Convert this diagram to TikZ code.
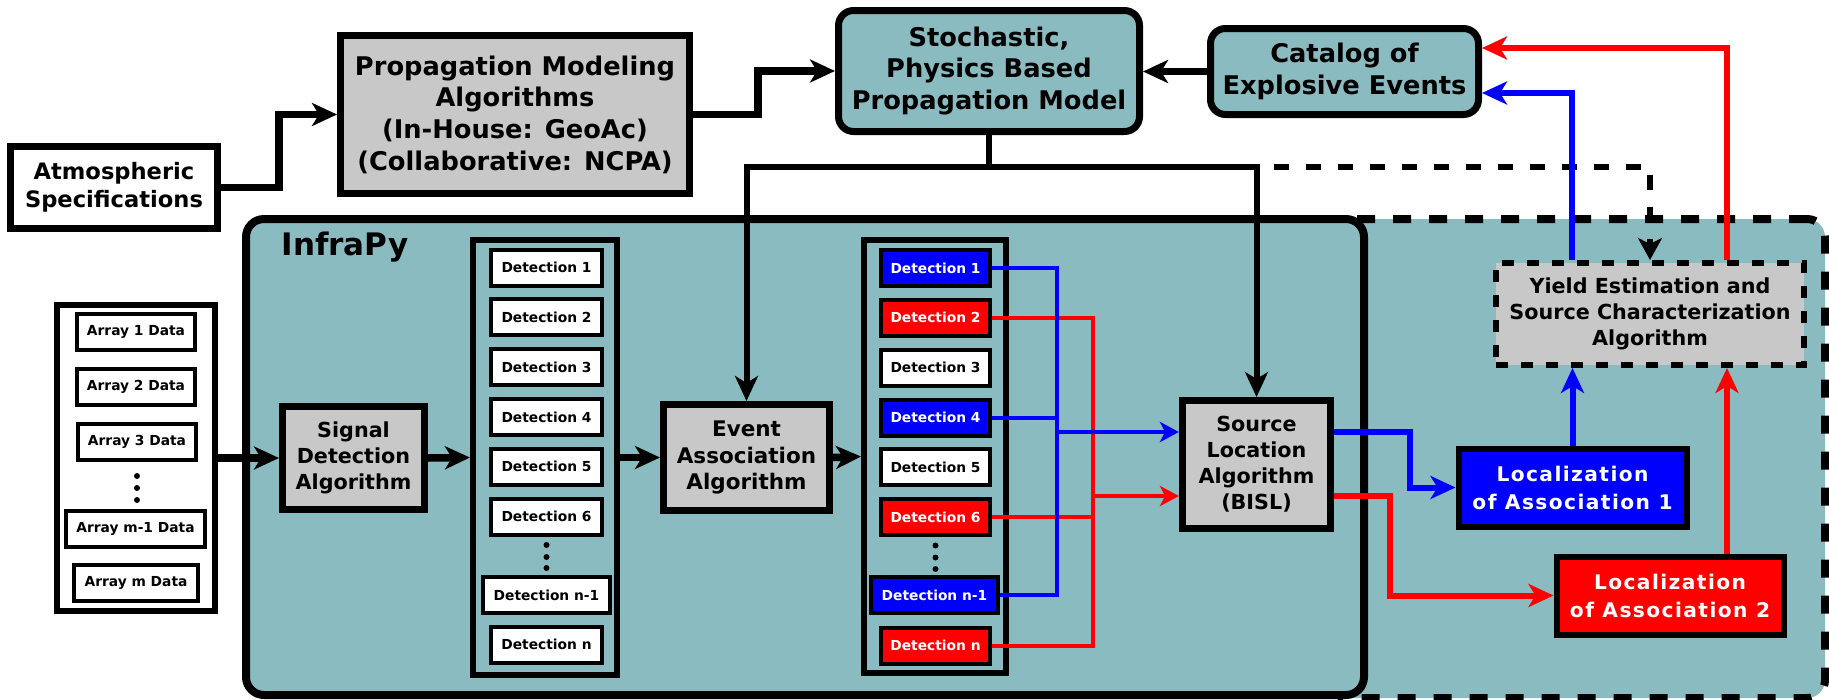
\documentclass[tikz,border=0pt]{standalone}
\usepackage{fontspec}
\setmainfont{DejaVu Sans}
\usetikzlibrary{arrows.meta}
\definecolor{infrateal}{RGB}{137,187,192}
\definecolor{algogray}{RGB}{200,200,200}

\begin{document}
\begin{tikzpicture}[x=1pt, y=-1pt,
	box/.style={draw, line width=7pt, fill=algogray, align=center, inner sep=0pt, font=\bfseries\fontsize{20.7}{26}\selectfont},
	bigbox/.style={box, font=\bfseries\fontsize{25.7}{31.7}\selectfont},
	tealbox/.style={bigbox, fill=infrateal, rounded corners=15pt},
	locbox/.style={box, line width=6pt, text=white, font=\bfseries\fontsize{20.2}{28}\selectfont\addfontfeatures{LetterSpace=7}},
	colbox/.style={draw, line width=6pt, inner sep=0pt},
	datbox/.style={draw, line width=4pt, fill=white, minimum height=36pt, inner sep=0pt, font=\bfseries\fontsize{13.8}{16}\selectfont},
	bdat/.style={datbox, fill=blue, text=white},
	rdat/.style={datbox, fill=red, text=white},
	bigtip/.style={-{Stealth[length=25pt, width=23pt, inset=7pt]}},
	smalltip/.style={-{Stealth[length=19pt, width=20pt, inset=5pt]}},
	flow/.style={line width=7.5pt, bigtip},
	feed/.style={line width=6pt},
	bline/.style={line width=6pt, blue},
	rline/.style={line width=6pt, red},
	bwire/.style={line width=4pt, blue},
	rwire/.style={line width=4pt, red}]
	\useasboundingbox (0,0) rectangle (1829,699);

	\node[draw, line width=8pt, fill=infrateal, rounded corners=18pt, dash pattern=on 18pt off 18pt, minimum width=495pt, minimum height=479pt] (yieldzone) at (1577.5,458.5) {};
	\node[draw, line width=8pt, fill=infrateal, rounded corners=18pt, minimum width=1118pt, minimum height=476pt] (infrapy) at (805,457) {};
	\node[anchor=base west, font=\bfseries\fontsize{31}{31}\selectfont] (infralabel) at (278,255) {InfraPy};

	\node[box, fill=white, font=\bfseries\fontsize{22.6}{28}\selectfont, minimum width=207pt, minimum height=82pt] (atmos) at (114,187.5) {Atmospheric\\Specifications};
	\node[bigbox, minimum width=349pt, minimum height=158pt] (propmod) at (515,114.5) {Propagation Modeling\\Algorithms\\(In-House: GeoAc)\\(Collaborative: NCPA)};
	\node[tealbox, minimum width=301pt, minimum height=121pt] (stoch) at (989,71) {Stochastic,\\Physics Based\\Propagation Model};
	\node[tealbox, minimum width=268pt, minimum height=86pt] (catalog) at (1344.5,71.5) {Catalog of\\Explosive Events};

	\node[colbox, fill=white, minimum width=158pt, minimum height=306pt] (arrays) at (136,458) {};
	\node[datbox, minimum width=118pt] (arr1) at (136,332) {Array 1 Data};
	\node[datbox, minimum width=118pt] (arr2) at (136,387) {Array 2 Data};
	\node[datbox, minimum width=118pt] (arr3) at (137,441.5) {Array 3 Data};
	\fill (137,476) circle (3pt);
	\fill (137,488) circle (3pt);
	\fill (137,500) circle (3pt);
	\node[datbox, minimum width=139pt] (arrm1) at (135.5,529) {Array m-1 Data};
	\node[datbox, minimum width=124pt] (arrm) at (136,582.5) {Array m Data};

	\node[box, minimum width=142pt, minimum height=103pt] (signal) at (353.5,458) {Signal\\Detection\\Algorithm};

	\node[colbox, minimum width=144pt, minimum height=435pt] (detL) at (545,457.5) {};
	\node[datbox, minimum width=111pt] (dl1) at (546.5,267.5) {Detection 1};
	\node[datbox, minimum width=111pt] (dl2) at (546.5,317) {Detection 2};
	\node[datbox, minimum width=111pt] (dl3) at (546.5,367) {Detection 3};
	\node[datbox, minimum width=111pt] (dl4) at (546.5,417) {Detection 4};
	\node[datbox, minimum width=111pt] (dl5) at (546.5,466.5) {Detection 5};
	\node[datbox, minimum width=111pt] (dl6) at (546.5,516.5) {Detection 6};
	\fill (546.5,545) circle (3pt);
	\fill (546.5,557) circle (3pt);
	\fill (546.5,568) circle (3pt);
	\node[datbox, minimum width=127pt] (dlm) at (546.5,595) {Detection n-1};
	\node[datbox, minimum width=111pt] (dln) at (546.5,644.5) {Detection n};

	\node[box, font=\bfseries\fontsize{21.5}{26.5}\selectfont, minimum width=166pt, minimum height=106pt] (event) at (746.5,457.5) {Event\\Association\\Algorithm};

	\node[colbox, minimum width=142pt, minimum height=433pt] (detR) at (935,456.5) {};
	\node[bdat, minimum width=109pt] (dr1) at (935.5,268) {Detection 1};
	\node[rdat, minimum width=109pt] (dr2) at (935.5,317.5) {Detection 2};
	\node[datbox, minimum width=109pt] (dr3) at (935.5,367.5) {Detection 3};
	\node[bdat, minimum width=109pt] (dr4) at (935.5,417.5) {Detection 4};
	\node[datbox, minimum width=109pt] (dr5) at (935.5,467) {Detection 5};
	\node[rdat, minimum width=109pt] (dr6) at (935.5,517) {Detection 6};
	\fill (935.5,545.5) circle (3pt);
	\fill (935.5,557.5) circle (3pt);
	\fill (935.5,569) circle (3pt);
	\node[bdat, minimum width=127pt] (drm) at (934.5,595) {Detection n-1};
	\node[rdat, minimum width=109pt] (drn) at (935.5,645.5) {Detection n};

	\node[box, minimum width=148pt, minimum height=128pt] (source) at (1256.5,464.5) {Source\\Location\\Algorithm\\(BISL)};
	\node[box, line width=6pt, dash pattern=on 12pt off 13pt, minimum width=308pt, minimum height=102pt] (yield) at (1650,314) {Yield Estimation and\\Source Characterization\\Algorithm};
	\node[locbox, fill=blue, minimum width=228pt, minimum height=78pt] (loc1) at (1572.5,487.5) {Localization\\of Association 1};
	\node[locbox, fill=red, minimum width=227pt, minimum height=78pt] (loc2) at (1670,595.5) {Localization\\of Association 2};

	\coordinate (bus) at (989,167);
	\coordinate (bluebus) at (1057,432);
	\coordinate (redbus) at (1093,496);
	\coordinate (bluerise) at (1572,93);
	\coordinate (redrise) at (1727,48);

	\draw[flow] (atmos.east) -- ++(58,0) |- (propmod.west);
	\draw[flow] (propmod.east) -- ++(65,0) |- (stoch.west);
	\draw[flow] (catalog.west) -- (stoch.east |- catalog.west);
	\draw[feed] (stoch.south) -- (bus);
	\draw[feed, bigtip] (bus) -| (event.north);
	\draw[feed, bigtip] (bus) -| (source.north);
	\draw[feed, dash pattern=on 15pt off 17pt, dash phase=15pt, -{Stealth[length=22pt, width=24pt, inset=6pt]}] (source.north |- bus) -| (yield.north);

	\draw[flow] (arrays.east) -- (signal.west);
	\draw[flow] (signal.east) -- (detL.west);
	\draw[flow] (detL.east) -- (event.west);
	\draw[flow] (event.east) -- (detR.west);

	\draw[rwire] (dr2.east) -| (redbus |- drn.east) -- (drn.east);
	\draw[rwire] (dr6.east) -- (redbus |- dr6.east);
	\draw[rwire, smalltip] (redbus) -- (source.west |- redbus);
	\draw[bwire] (dr1.east) -| (bluebus |- drm.east) -- (drm.east);
	\draw[bwire] (dr4.east) -- (bluebus |- dr4.east);
	\draw[bwire, smalltip] (bluebus) -- (source.west |- bluebus);

	\draw[bline, bigtip] (source.east |- bluebus) -- ++(76,0) |- (loc1.west);
	\draw[rline, bigtip] (source.east |- redbus) -- ++(56,0) |- (loc2.west);
	\draw[bline, bigtip] (loc1.north) -- (loc1.north |- yield.south);
	\draw[rline, bigtip] (loc2.north -| redrise) -- (yield.south -| redrise);
	\draw[bline, bigtip] (yield.north -| bluerise) |- (catalog.east |- bluerise);
	\draw[rline, bigtip] (yield.north -| redrise) |- (catalog.east |- redrise);
\end{tikzpicture}
\end{document}
